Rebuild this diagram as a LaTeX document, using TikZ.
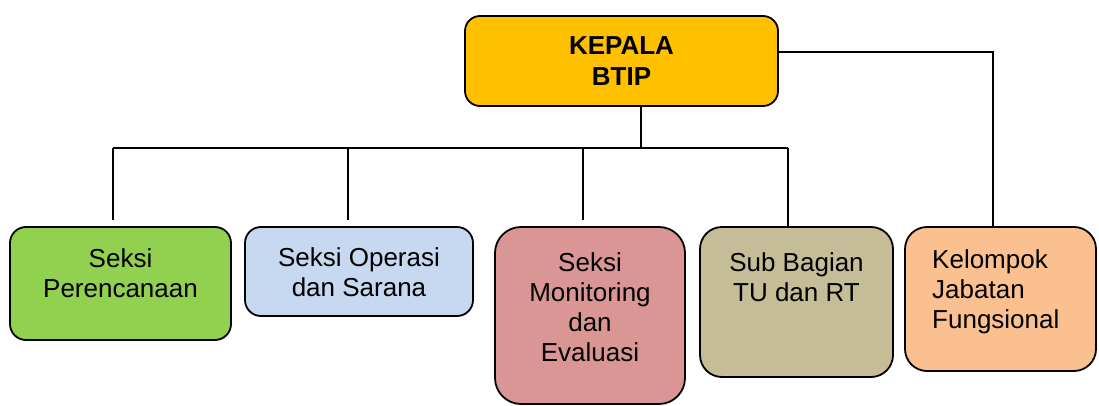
\documentclass[tikz,border=0pt]{standalone}
\usepackage{fontspec}
\setmainfont{Liberation Sans}
\begin{document}
\begin{tikzpicture}[x=1pt,y=-1pt,
  box/.style={draw=black,line width=1.8pt,inner sep=0pt,outer sep=0pt},
  lbl/.style={inner sep=0pt,align=center,font=\fontsize{26}{30}\selectfont},
  conn/.style={draw=black,line width=1.8pt}]
\useasboundingbox (0,0) rectangle (1099,406);
\definecolor{cKep}{HTML}{FFC000}
\definecolor{cGreen}{HTML}{92D050}
\definecolor{cBlue}{HTML}{C6D9F0}
\definecolor{cPink}{HTML}{D99694}
\definecolor{cTan}{HTML}{C4BD97}
\definecolor{cPeach}{HTML}{FAC090}
% boxes
\node[box,fill=cKep,rounded corners=15pt,minimum width=313pt,minimum height=90pt] (kep) at (621.5,61) {};
\node[box,fill=cGreen,rounded corners=16pt,minimum width=221pt,minimum height=113pt] (per) at (120.5,283.5) {};
\node[box,fill=cBlue,rounded corners=16pt,minimum width=228pt,minimum height=89pt] (ops) at (359,271.5) {};
\node[box,fill=cPink,rounded corners=26pt,minimum width=190pt,minimum height=177pt] (mon) at (590,315.5) {};
\node[box,fill=cTan,rounded corners=22pt,minimum width=193pt,minimum height=150pt] (tub) at (796.5,302) {};
\node[box,fill=cPeach,rounded corners=22pt,minimum width=191pt,minimum height=144pt] (kel) at (1000.5,299) {};
% texts
\node[lbl,font=\bfseries\fontsize{26}{31}\selectfont] (tkep) at (621.5,61.5) {KEPALA\\BTIP};
\node[lbl] (tper) at (120.5,273) {Seksi\\Perencanaan};
\node[lbl] (tops) at (359,272.5) {Seksi Operasi\\dan Sarana};
\node[lbl] (tmon) at (590,307) {Seksi\\Monitoring\\dan\\Evaluasi};
\node[lbl] (ttub) at (796.5,277) {Sub Bagian\\TU dan RT};
\node[lbl,align=left,anchor=west] (tkel) at (932,292) {Kelompok\\Jabatan\\Fungsional};
% connector points
\coordinate (busm) at (641,148);
\coordinate (busl) at (113,148);
\coordinate (bus2) at (348,148);
\coordinate (bus3) at (583,148);
\coordinate (busr) at (788,148);
\coordinate (e1) at (113,220);
\coordinate (e2) at (348,220);
\coordinate (e3) at (583,220);
\coordinate (rk) at (993,52);
% connectors
\draw[conn] (kep.south -| busm) -- (busm);
\draw[conn] (busl) -- (busr);
\draw[conn] (busl) -- (e1);
\draw[conn] (bus2) -- (e2);
\draw[conn] (bus3) -- (e3);
\draw[conn] (busr) -- (busr |- tub.north);
\draw[conn] (kep.east |- rk) -- (rk) -- (rk |- kel.north);
\end{tikzpicture}
\end{document}
